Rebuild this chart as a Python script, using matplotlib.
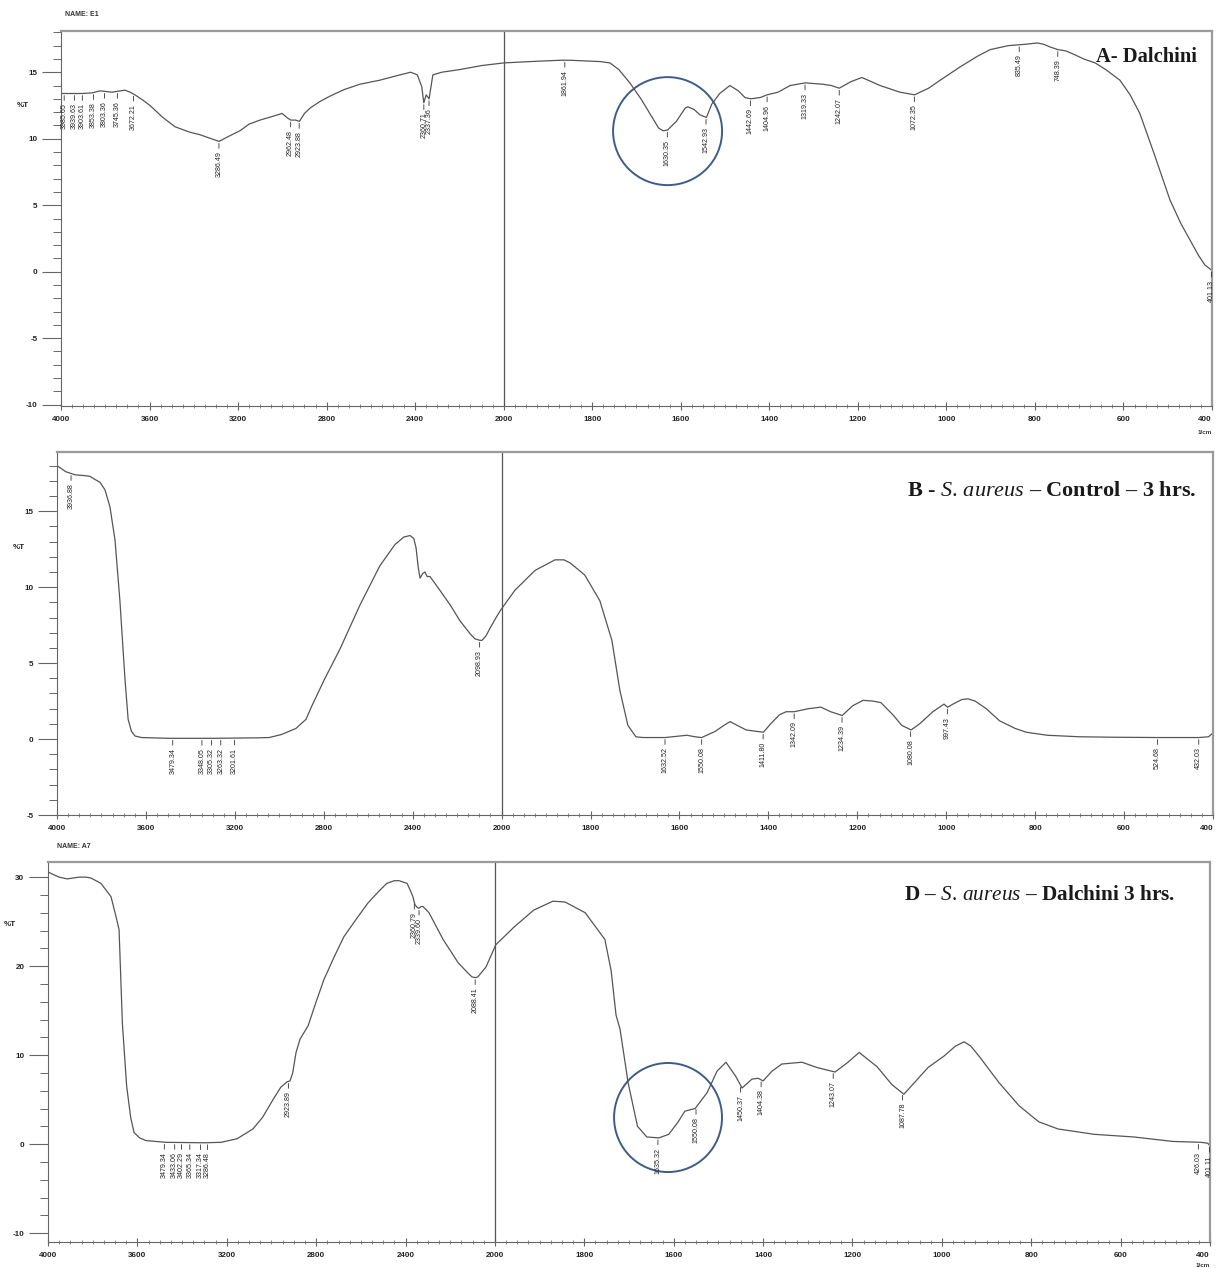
import numpy as np
import matplotlib
matplotlib.use('Agg')
import matplotlib.pyplot as plt
from matplotlib.ticker import FixedLocator, FuncFormatter
from matplotlib.patches import Ellipse
from matplotlib.transforms import blended_transform_factory

plt.rcParams['font.family'] = ['Liberation Sans', 'DejaVu Sans']
plt.rcParams['mathtext.fontset'] = 'custom'
plt.rcParams['mathtext.it'] = 'Liberation Serif:italic'
plt.rcParams['mathtext.rm'] = 'Liberation Serif'
plt.rcParams['mathtext.bf'] = 'Liberation Serif:bold'

# ---- panel A: Dalchini ----
a_wn = [4000, 3986, 3946, 3903, 3859, 3824, 3770, 3711, 3688, 3666, 3630, 3598, 3540, 3485,
        3420, 3372, 3330, 3286, 3240, 3191, 3150, 3101, 3040, 3001, 2980, 2962, 2940, 2923,
        2900, 2875, 2830, 2785, 2720, 2649, 2560, 2469, 2420, 2390, 2370, 2361, 2350, 2337,
        2320, 2280, 2198, 2100, 2000, 1940, 1873, 1850, 1782, 1760, 1740, 1715, 1690, 1670,
        1650, 1640, 1630, 1610, 1590, 1584, 1570, 1557, 1542, 1530, 1512, 1489, 1470, 1455,
        1442, 1420, 1405, 1380, 1353, 1319, 1280, 1260, 1242, 1215, 1191, 1170, 1150, 1105,
        1072, 1040, 1014, 969, 930, 901, 860, 822, 795, 780, 766, 748, 730, 709, 690, 664,
        640, 608, 585, 563, 530, 495, 470, 450, 430, 416, 400]
a_t = [13.4, 13.4, 13.4, 13.4, 13.45, 13.6, 13.5, 13.65, 13.5, 13.3, 12.9, 12.5, 11.6, 10.9,
       10.5, 10.3, 10.05, 9.8, 10.2, 10.6, 11.1, 11.4, 11.7, 11.9, 11.6, 11.4, 11.4, 11.3,
       11.9, 12.3, 12.8, 13.2, 13.7, 14.1, 14.4, 14.8, 15.0, 14.8, 13.9, 12.7, 13.3, 13.0,
       14.8, 15.0, 15.2, 15.5, 15.7, 15.8, 15.9, 15.9, 15.8, 15.7, 15.2, 14.2, 13.0, 11.9,
       10.8, 10.6, 10.65, 11.3, 12.3, 12.4, 12.2, 11.8, 11.6, 12.6, 13.4, 14.0, 13.6, 13.1,
       13.0, 13.1, 13.3, 13.5, 14.0, 14.2, 14.1, 14.0, 13.8, 14.3, 14.6, 14.3, 14.0, 13.5,
       13.3, 13.8, 14.4, 15.4, 16.2, 16.7, 17.0, 17.1, 17.2, 17.1, 16.9, 16.7, 16.6, 16.3,
       16.0, 15.7, 15.2, 14.4, 13.3, 11.9, 8.8, 5.4, 3.6, 2.4, 1.2, 0.5, 0.1]
a_peaks = [3985.65, 3939.63, 3903.61, 3853.38, 3803.36, 3745.36, 3672.21, 3286.49, 2962.48,
           2923.88, 2360.71, 2337.36, 1861.94, 1630.35, 1542.93, 1442.69, 1404.96, 1319.33,
           1242.07, 1072.35, 835.49, 748.39, 401.13]

# ---- panel B: S. aureus control ----
b_wn = [4000, 3960, 3919, 3880, 3852, 3830, 3806, 3784, 3762, 3739, 3717, 3694, 3680, 3665,
        3649, 3620, 3500, 3300, 3100, 3046, 2990, 2925, 2880, 2853, 2798, 2728, 2638, 2548,
        2480, 2440, 2412, 2395, 2385, 2375, 2367, 2355, 2345, 2335, 2322, 2278, 2230, 2188,
        2140, 2120, 2098, 2088, 2070, 2052, 2025, 2004, 1970, 1925, 1880, 1860, 1846, 1813,
        1779, 1752, 1734, 1716, 1698, 1682, 1632, 1600, 1583, 1565, 1550, 1520, 1500, 1486,
        1470, 1450, 1425, 1411, 1395, 1375, 1360, 1342, 1310, 1282, 1260, 1234, 1210, 1187,
        1165, 1147, 1120, 1100, 1079, 1060, 1030, 1005, 997, 985, 965, 951, 935, 910, 880,
        845, 820, 773, 700, 623, 524, 432, 410, 400]
b_t = [18.0, 17.6, 17.4, 17.35, 17.3, 17.1, 16.9, 16.4, 15.3, 13.1, 9.1, 3.9, 1.3, 0.5,
       0.2, 0.1, 0.05, 0.05, 0.08, 0.1, 0.3, 0.7, 1.3, 2.2, 3.9, 5.9, 8.8, 11.4,
       12.8, 13.3, 13.4, 13.2, 12.6, 11.3, 10.6, 10.9, 11.0, 10.7, 10.7, 9.8, 8.8, 7.8,
       6.9, 6.6, 6.5, 6.5, 6.8, 7.3, 8.0, 8.5, 9.8, 11.1, 11.8, 11.8, 11.6, 10.8,
       9.1, 6.5, 3.2, 0.9, 0.15, 0.1, 0.1, 0.2, 0.25, 0.15, 0.1, 0.5, 0.9, 1.15,
       0.9, 0.6, 0.5, 0.45, 1.0, 1.6, 1.8, 1.8, 2.0, 2.1, 1.8, 1.55, 2.2, 2.55,
       2.5, 2.4, 1.6, 0.9, 0.6, 1.0, 1.8, 2.3, 2.1, 2.3, 2.6, 2.65, 2.5, 2.0, 1.2,
       0.7, 0.45, 0.25, 0.15, 0.12, 0.1, 0.1, 0.15, 0.4]
b_peaks = [3936.88, 3479.34, 3348.05, 3305.32, 3263.32, 3201.61, 2098.93, 1632.52, 1550.08,
           1411.80, 1342.09, 1234.39, 1080.08, 997.43, 524.68, 432.03]

# ---- panel D: S. aureus + Dalchini ----
d_wn = [4000, 3986, 3950, 3914, 3861, 3830, 3808, 3763, 3718, 3695, 3682, 3667, 3648, 3630,
        3615, 3590, 3562, 3472, 3300, 3226, 3154, 3083, 3040, 2993, 2958, 2930, 2917, 2905,
        2890, 2872, 2836, 2800, 2765, 2720, 2676, 2620, 2568, 2520, 2484, 2450, 2429, 2393,
        2375, 2367, 2358, 2348, 2340, 2330, 2322, 2295, 2232, 2165, 2120, 2103, 2088, 2076,
        2040, 1998, 1957, 1913, 1870, 1843, 1798, 1754, 1740, 1729, 1720, 1702, 1681, 1660,
        1633, 1611, 1590, 1575, 1552, 1525, 1503, 1483, 1461, 1447, 1425, 1411, 1400, 1380,
        1358, 1313, 1279, 1239, 1210, 1185, 1145, 1112, 1085, 1058, 1031, 995, 970, 950,
        935, 917, 872, 827, 783, 740, 659, 570, 483, 420, 405, 400]
d_t = [30.6, 30.4, 30.0, 29.8, 30.0, 30.0, 29.9, 29.3, 27.8, 25.5, 24.1, 13.5, 6.5, 3.0,
       1.3, 0.7, 0.4, 0.2, 0.15, 0.2, 0.6, 1.7, 3.0, 5.0, 6.4, 7.0, 7.1, 8.0,
       10.3, 11.8, 13.3, 16.0, 18.5, 21.0, 23.3, 25.3, 27.1, 28.4, 29.3, 29.6, 29.6, 29.3,
       28.3, 27.8, 26.9, 26.6, 26.5, 26.7, 26.7, 26.0, 23.0, 20.4, 19.2, 18.8, 18.7, 18.8,
       19.9, 22.4, 24.4, 26.3, 27.3, 27.2, 26.0, 23.0, 19.5, 14.5, 12.9, 6.9, 2.0, 0.8,
       0.7, 1.1, 2.5, 3.7, 4.0, 5.8, 8.2, 9.2, 7.6, 6.3, 7.3, 7.4, 7.1, 8.2,
       9.0, 9.2, 8.6, 8.1, 9.2, 10.3, 8.7, 6.7, 5.6, 7.1, 8.6, 9.9, 11.0, 11.5,
       11.0, 9.9, 6.9, 4.3, 2.5, 1.7, 1.1, 0.8, 0.3, 0.2, 0.1, -0.2]
d_peaks = [3479.34, 3433.06, 3402.29, 3365.34, 3317.34, 3286.48, 2923.89, 2360.79, 2339.60,
           2088.41, 1635.32, 1550.08, 1450.37, 1404.38, 1243.07, 1087.78, 426.03, 401.11]

x_major = [4000, 3600, 3200, 2800, 2400, 2000, 1800, 1600, 1400, 1200, 1000, 800, 600, 400]


# split wavenumber axis: 4000-2000 compressed by 2 relative to 2000-400
def fwd(x):
    x = np.asarray(x, dtype=float)
    return np.where(x >= 2000, 2000 + (x - 2000) / 2.0, x)


def inv(t):
    t = np.asarray(t, dtype=float)
    return np.where(t >= 2000, 2000 + (t - 2000) * 2.0, t)


def draw_panel(ax, wn, t, peaks, ylim, ymajor, yminor, pct_y):
    ax.set_xscale('function', functions=(fwd, inv))
    ax.plot(wn, t, color='#555555', lw=0.9)
    ax.axvline(2000, color='#555555', lw=0.9)
    ax.set_xlim(4000, 400)
    ax.set_ylim(*ylim)

    ax.xaxis.set_major_locator(FixedLocator(x_major))
    ax.xaxis.set_minor_locator(FixedLocator(list(np.arange(3950, 2000, -50)) + list(np.arange(1975, 400, -25))))
    ax.xaxis.set_major_formatter(FuncFormatter(lambda v, p: '%d' % round(v)))
    ax.yaxis.set_major_locator(FixedLocator(ymajor))
    ax.yaxis.set_minor_locator(FixedLocator(yminor))
    ax.yaxis.set_major_formatter(FuncFormatter(lambda v, p: '%d' % round(v)))

    ax.tick_params(axis='y', which='major', direction='out', length=14, width=0.8,
                   color='#666666', labelsize=5.8, labelcolor='#222222', pad=3)
    ax.tick_params(axis='y', which='minor', direction='out', length=6, width=0.7, color='#666666')
    ax.tick_params(axis='x', which='major', direction='inout', length=6, width=0.8,
                   color='#666666', labelsize=5.8, labelcolor='#222222', pad=4)
    ax.tick_params(axis='x', which='minor', direction='inout', length=3, width=0.6, color='#777777')
    for lbl in ax.get_xticklabels() + ax.get_yticklabels():
        lbl.set_fontweight('bold')

    for side in ['top', 'right']:
        ax.spines[side].set_color('#9a9a9a')
        ax.spines[side].set_linewidth(1.6)
    for side in ['left', 'bottom']:
        ax.spines[side].set_color('#666666')
        ax.spines[side].set_linewidth(0.8)

    trans = blended_transform_factory(ax.transAxes, ax.transData)
    ax.text(-0.033, pct_y, '%T', transform=trans, fontsize=5.8, fontweight='bold',
            color='#222222', ha='center', va='center')

    # peak labels hanging under the trace
    xs = np.array(wn[::-1], dtype=float)
    ys = np.array(t[::-1], dtype=float)
    for p in peaks:
        yv = np.interp(p, xs, ys)
        ax.annotate('%.2f' % p, xy=(p, yv), xytext=(0, -7), textcoords='offset points',
                    rotation=90, ha='center', va='top', fontsize=5.1, color='#222222',
                    arrowprops=dict(arrowstyle='-', color='#333333', lw=0.6,
                                    shrinkA=0, shrinkB=1.5))


fig = plt.figure(figsize=(12.17, 12.68), dpi=100)
W, H = 1217.0, 1268.0

axA = fig.add_axes([61 / W, 1 - 406 / H, 1151 / W, 375 / H])
axB = fig.add_axes([57 / W, 1 - 815 / H, 1156 / W, 363 / H])
axD = fig.add_axes([48 / W, 1 - 1242 / H, 1162 / W, 380 / H])

draw_panel(axA, a_wn, a_t, a_peaks, (-10.1, 18.1), range(-10, 16, 5), range(-10, 19, 1), 12.5)
draw_panel(axB, b_wn, b_t, b_peaks, (-5, 18.9), range(-5, 16, 5), range(-5, 19, 1), 12.6)
draw_panel(axD, d_wn, d_t, d_peaks, (-11, 31.7), range(-10, 31, 10), range(-10, 32, 2), 24.7)

# the last x label of every panel sits at the figure edge: keep it inside
for ax in [axA, axB, axD]:
    ax.get_xticklabels()[-1].set_horizontalalignment('right')

# panel titles
axA.text(0.987, 0.931, 'A- Dalchini', transform=axA.transAxes, ha='right', va='center',
         family='Liberation Serif', fontweight='bold', fontsize=14.8, color='#1a1a1a')
axB.text(0.986, 0.893, r'B - $S.\,aureus$ – Control – 3 hrs.', transform=axB.transAxes,
         ha='right', va='center', family='Liberation Serif', fontweight='bold', fontsize=16,
         color='#1a1a1a')
axD.text(0.97, 0.913, r'D – $S.\,aureus$ – Dalchini 3 hrs.', transform=axD.transAxes,
         ha='right', va='center', family='Liberation Serif', fontweight='bold', fontsize=15.3,
         color='#1a1a1a')

fig.text(65 / W, 1 - 14 / H, 'NAME: E1', fontsize=5, fontweight='bold', color='#333333', va='center')
fig.text(57 / W, 1 - 847 / H, 'NAME: A7', fontsize=5, fontweight='bold', color='#333333', va='center')
for ax in [axA, axD]:
    ax.text(1.0, -0.072 if ax is axA else -0.062, '1/cm', transform=ax.transAxes, ha='right',
            va='center', fontsize=4.5, fontweight='bold', color='#333333')

# highlighted regions
axA.add_patch(Ellipse((0.527, 0.733), 0.0947, 0.288, transform=axA.transAxes, fill=False,
                      ec='#3e5c88', lw=1.4))
axD.add_patch(Ellipse((0.5336, 0.3276), 0.0929, 0.287, transform=axD.transAxes, fill=False,
                      ec='#3e5c88', lw=1.4))

fig.savefig('out.png', dpi=100)
